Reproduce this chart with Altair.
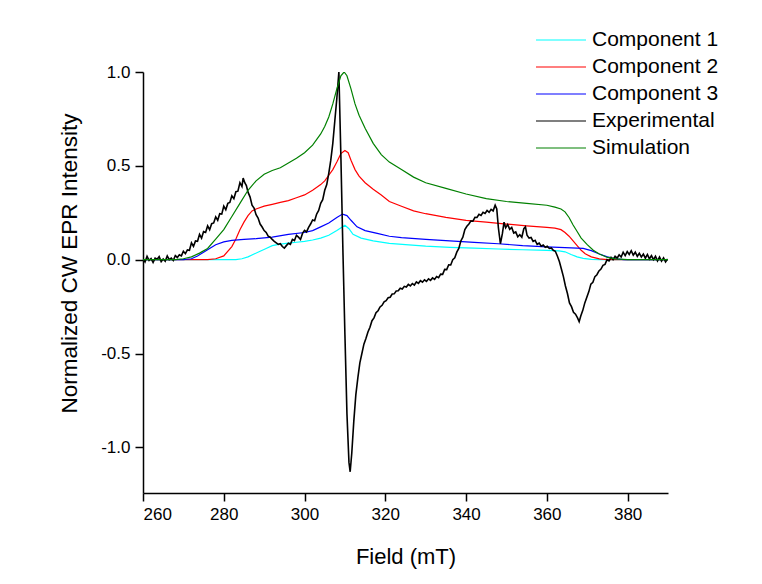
import altair as alt
import pandas as pd

FONT = "Liberation Sans"

series_names = ["Component 1", "Component 2", "Component 3", "Experimental", "Simulation"]
series_colors = ["#00FFFF", "#FF0000", "#0000FF", "#000000", "#008000"]

x_ticks = [260, 280, 300, 320, 340, 360, 380]
y_ticks = [-1.0, -0.5, 0.0, 0.5, 1.0]

comp1 = [(260, 0), (283, 0), (284.5, 0.005), (286, 0.015), (287.5, 0.03), (289, 0.045), (290.5, 0.06),
         (292, 0.075), (294, 0.083), (296, 0.088), (298, 0.093), (300, 0.098), (302, 0.105), (304, 0.115),
         (306, 0.13), (308, 0.155), (310, 0.183), (311, 0.165), (312, 0.135), (314, 0.115), (317, 0.1),
         (321, 0.087), (325, 0.08), (330, 0.072), (336, 0.066), (342, 0.062), (348, 0.057), (354, 0.053),
         (360, 0.05), (363, 0.047), (364.5, 0.042), (366, 0.028), (367.5, 0.015), (369, 0.007), (371, 0.002),
         (373, 0), (390, 0)]

comp2 = [(260, 0), (276, 0), (278, 0.005), (280, 0.02), (282, 0.07), (283, 0.11), (284, 0.16), (285, 0.2),
         (286, 0.235), (287, 0.26), (288, 0.27), (290, 0.285), (292, 0.295), (294, 0.305), (296, 0.315),
         (298, 0.33), (300, 0.345), (302, 0.37), (304, 0.40), (305, 0.42), (306, 0.45), (307, 0.48),
         (308, 0.52), (309, 0.565), (310, 0.582), (310.8, 0.57), (311.5, 0.53), (312.5, 0.48), (313.5, 0.445),
         (315, 0.41), (317, 0.375), (319, 0.345), (321, 0.31), (324, 0.285), (327, 0.26), (330, 0.245),
         (335, 0.225), (340, 0.21), (345, 0.2), (350, 0.19), (355, 0.18), (360, 0.172), (362, 0.168),
         (363.5, 0.16), (364.5, 0.145), (365.5, 0.125), (366.5, 0.1), (367.5, 0.075), (368.5, 0.05),
         (369.5, 0.032), (371, 0.015), (373, 0.004), (375, 0), (390, 0)]

comp3 = [(260, 0), (270, 0), (272, 0.005), (273.5, 0.02), (275, 0.04), (276.5, 0.06), (278, 0.08), (280, 0.095),
         (282, 0.103), (285, 0.108), (288, 0.112), (292, 0.12), (296, 0.135), (300, 0.145), (302, 0.155),
         (304, 0.175), (306, 0.195), (308, 0.225), (309.4, 0.243), (310.5, 0.235), (311.5, 0.21), (313, 0.175),
         (315, 0.155), (318, 0.14), (321, 0.125), (324, 0.118), (330, 0.108), (336, 0.1), (342, 0.092),
         (348, 0.085), (354, 0.075), (360, 0.068), (366, 0.063), (369, 0.06), (371, 0.048), (373, 0.03),
         (375, 0.015), (377, 0.005), (379, 0), (390, 0)]

simulation = [(260, 0), (268, 0), (270, 0.005), (272, 0.015), (274, 0.035), (276, 0.06), (278, 0.11), (280, 0.16),
              (282, 0.23), (284, 0.30), (286, 0.37), (288, 0.42), (290, 0.455), (292, 0.475), (294, 0.49),
              (296, 0.515), (298, 0.54), (300, 0.57), (302, 0.61), (304, 0.67), (305, 0.71), (306, 0.76),
              (307, 0.83), (308, 0.91), (309, 0.98), (309.8, 1.0), (310.5, 0.98), (311.5, 0.91), (312.5, 0.83),
              (313.5, 0.77), (315, 0.70), (317, 0.62), (319, 0.56), (321, 0.52), (324, 0.48), (327, 0.44),
              (330, 0.41), (335, 0.38), (340, 0.35), (345, 0.325), (350, 0.31), (355, 0.30), (360, 0.29),
              (362, 0.28), (363.5, 0.27), (364.5, 0.255), (365.5, 0.225), (366.5, 0.185), (367.5, 0.15),
              (368.5, 0.115), (370, 0.08), (371.5, 0.05), (373, 0.03), (375, 0.012), (377, 0.004), (380, 0),
              (390, 0)]

experimental = [
    (260, 0.005), (260.5, -0.012), (261, 0.018), (261.5, -0.004), (262, 0.006), (262.5, -0.015), (263, 0.008),
    (263.5, 0.002), (264, 0.016), (264.5, -0.01), (265, 0.004), (265.5, -0.008), (266, 0.02), (266.5, 0.0),
    (267, 0.009), (267.5, -0.004), (268, 0.022), (268.5, 0.012), (269, 0.026), (269.5, 0.02),
    (270, 0.045), (270.5, 0.032), (271, 0.052), (271.5, 0.05), (272, 0.09), (272.5, 0.071), (273, 0.1),
    (273.5, 0.098), (274, 0.135), (274.5, 0.115), (275, 0.15), (275.5, 0.145), (276, 0.18), (276.5, 0.16),
    (277, 0.192), (277.5, 0.196), (278, 0.228), (278.5, 0.21), (279, 0.245), (279.5, 0.243), (280, 0.285),
    (280.5, 0.266), (281, 0.3), (281.5, 0.305), (282, 0.34), (282.5, 0.325), (283, 0.362), (283.5, 0.365),
    (284, 0.41), (284.5, 0.39), (284.8, 0.435),
    (285.2, 0.41), (285.6, 0.395), (286, 0.36), (286.5, 0.335), (287, 0.29), (287.5, 0.275), (288, 0.24),
    (288.5, 0.222), (289, 0.19), (289.5, 0.174), (290, 0.155), (290.5, 0.145), (291, 0.125), (291.5, 0.12),
    (292, 0.108), (292.5, 0.098), (293, 0.09), (293.5, 0.082), (294, 0.085), (294.5, 0.07), (295, 0.062),
    (295.5, 0.075),
    (296, 0.088), (296.5, 0.082), (297, 0.108), (297.5, 0.102), (298, 0.13), (298.5, 0.12), (299, 0.108),
    (299.5, 0.14), (300, 0.156), (300.5, 0.148), (301, 0.172), (301.5, 0.19), (302, 0.212), (302.5, 0.208),
    (303, 0.243), (303.5, 0.262), (304, 0.3), (304.5, 0.32), (305, 0.37), (305.5, 0.4), (306, 0.46),
    (306.5, 0.53), (307, 0.62), (307.5, 0.74), (308, 0.86), (308.5, 1.0),
    (309, 0.55), (309.5, 0.05), (310, -0.4), (310.5, -0.82), (311, -1.08), (311.3, -1.13), (311.7, -1.03),
    (312.2, -0.86), (312.7, -0.72), (313.2, -0.63), (313.7, -0.55), (314.2, -0.5), (314.7, -0.45),
    (315.2, -0.42), (315.7, -0.385), (316.2, -0.36), (316.7, -0.325), (317.2, -0.31), (317.7, -0.283),
    (318.2, -0.272), (318.7, -0.252), (319.2, -0.243), (319.7, -0.224), (320.2, -0.218), (320.7, -0.203),
    (321.2, -0.2), (321.7, -0.183), (322.2, -0.182), (322.7, -0.167), (323.2, -0.166), (323.7, -0.152),
    (324.2, -0.156), (324.7, -0.142), (325.2, -0.146), (325.7, -0.132), (326.2, -0.14), (326.7, -0.127),
    (327.2, -0.135), (327.7, -0.118), (328.2, -0.126), (328.7, -0.112), (329.2, -0.12), (329.7, -0.107),
    (330.2, -0.116), (330.7, -0.102), (331.2, -0.11), (331.7, -0.097), (332.2, -0.105), (332.7, -0.09),
    (333.2, -0.096), (333.7, -0.077), (334.2, -0.078), (334.7, -0.052), (335.2, -0.053), (335.7, -0.027),
    (336.2, -0.028), (336.7, 0.0), (337.2, 0.01), (337.7, 0.04), (338.2, 0.06), (338.7, 0.1), (339.2, 0.12),
    (339.7, 0.16), (340.2, 0.178), (340.7, 0.19), (341.2, 0.207), (341.7, 0.205), (342.2, 0.226),
    (342.7, 0.225), (343.2, 0.242), (343.7, 0.236), (344.2, 0.252), (344.7, 0.246), (345.2, 0.262),
    (345.7, 0.252), (346.2, 0.268), (346.7, 0.26), (347.2, 0.29), (347.6, 0.27), (348, 0.17), (348.5, 0.085),
    (349, 0.14), (349.4, 0.2), (349.8, 0.17), (350.3, 0.188), (350.8, 0.162), (351.3, 0.172), (351.8, 0.142),
    (352.3, 0.148), (352.8, 0.122), (353.3, 0.133), (353.8, 0.12), (354.3, 0.165), (354.7, 0.175),
    (355.1, 0.13), (355.6, 0.115), (356.1, 0.118), (356.6, 0.097), (357.1, 0.103), (357.6, 0.082),
    (358.1, 0.088), (358.6, 0.072), (359.1, 0.078), (359.6, 0.066), (360.1, 0.072), (360.6, 0.06),
    (361.1, 0.063), (361.6, 0.05), (362.1, 0.045), (362.6, 0.02), (363.1, -0.01), (363.6, -0.05),
    (364.1, -0.09), (364.6, -0.14), (365.1, -0.18), (365.6, -0.23), (366.1, -0.25), (366.6, -0.28),
    (367.1, -0.29), (367.6, -0.31), (368, -0.33), (368.4, -0.3), (368.9, -0.27), (369.4, -0.23),
    (369.9, -0.2), (370.4, -0.17), (370.9, -0.13), (371.4, -0.12), (371.9, -0.09), (372.4, -0.08),
    (372.9, -0.06), (373.4, -0.05), (373.9, -0.03), (374.4, -0.025), (374.9, 0.0), (375.4, -0.006),
    (375.9, 0.012), (376.4, 0.0), (376.9, 0.018), (377.4, 0.008), (377.9, 0.026), (378.4, 0.014),
    (378.9, 0.04), (379.4, 0.022), (379.9, 0.043), (380.4, 0.028), (380.9, 0.048), (381.4, 0.024),
    (381.9, 0.04), (382.4, 0.018), (382.9, 0.034), (383.4, 0.014), (383.9, 0.03), (384.4, 0.008),
    (384.9, 0.028), (385.4, 0.004), (385.9, 0.022), (386.4, 0.0), (386.9, 0.018), (387.4, -0.006),
    (387.9, 0.014), (388.4, -0.008), (388.9, 0.01), (389.4, -0.012), (389.9, 0.004)]


def frame(points, name):
    return pd.DataFrame({"field": [p[0] for p in points],
                         "intensity": [p[1] for p in points],
                         "series": name})


x_scale = alt.Scale(domain=[260, 390], nice=False, zero=False)
y_scale = alt.Scale(domain=[-1.243, 1.0], nice=False, zero=False)
color_scale = alt.Scale(domain=series_names, range=series_colors)

y_label_expr = "replace(format(datum.value, '.1f'), '\u2212', '-')"


def line(df, width):
    return alt.Chart(df).mark_line(strokeWidth=width, clip=True).encode(
        x=alt.X("field:Q", scale=x_scale,
                axis=alt.Axis(title="Field (mT)", values=x_ticks, format="d",
                              titleBaseline="alphabetic", titleY=70)),
        y=alt.Y("intensity:Q", scale=y_scale,
                axis=alt.Axis(title="Normalized CW EPR Intensity", values=y_ticks,
                              labelExpr=y_label_expr,
                              titleX=-67, titleY=191, titleBaseline="alphabetic",
                              titleFontSize=22.5)),
        color=alt.Color("series:N", scale=color_scale,
                        legend=alt.Legend(title=None, orient="none", legendX=392, legendY=-45,
                                          symbolType="stroke", symbolSize=2500, symbolStrokeWidth=1.2,
                                          labelFontSize=21, labelFont=FONT, labelColor="black",
                                          clipHeight=26, rowPadding=1, labelOffset=5, padding=0)),
    )


chart = alt.layer(
    line(frame(comp1, "Component 1"), 1.2),
    line(frame(comp2, "Component 2"), 1.2),
    line(frame(comp3, "Component 3"), 1.2),
    line(frame(experimental, "Experimental"), 1.6),
    line(frame(simulation, "Simulation"), 1.2),
).properties(
    width=525, height=421,
    autosize=alt.AutoSizeParams(type="none"),
    padding={"left": 143, "top": 72, "right": 94, "bottom": 91},
    background="white",
).configure_view(stroke=None).configure_axis(
    grid=False, domainColor="black", domainWidth=1.5, tickColor="black", tickWidth=1.5, tickSize=8,
    labelFont=FONT, labelFontSize=17, labelColor="black", labelPadding=5,
    titleFont=FONT, titleFontSize=22, titleFontWeight="normal", titleColor="black",
)

chart.save("out.html", embed_options={"renderer": "svg", "actions": False})
